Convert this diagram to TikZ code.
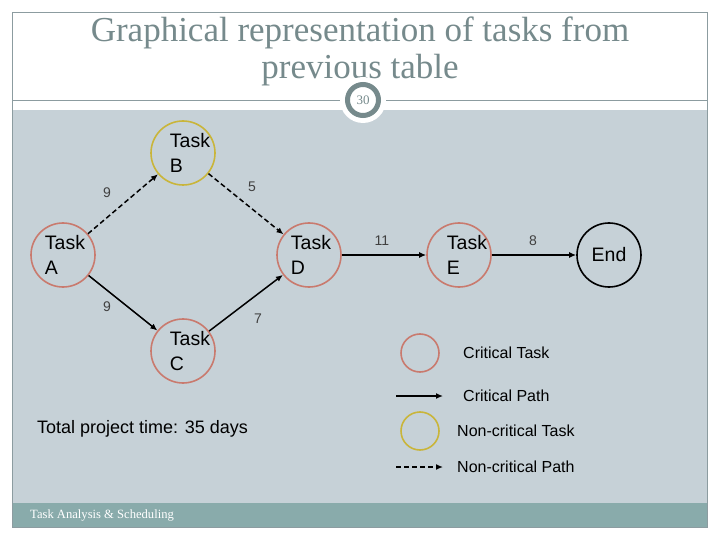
\documentclass[tikz,border=0pt]{standalone}
\usepackage{fontspec}
\setmainfont{Liberation Serif}
\setsansfont{Liberation Sans}
\usepackage{xcolor}
\usetikzlibrary{arrows.meta, positioning}

\definecolor{framegray}{RGB}{140,156,160}
\definecolor{panelgray}{RGB}{198,209,215}
\definecolor{footgray}{RGB}{137,171,171}
\definecolor{titlegray}{RGB}{118,138,140}
\definecolor{critred}{RGB}{201,122,110}
\definecolor{slackyellow}{RGB}{201,181,58}

\begin{document}
\begin{tikzpicture}[x=1bp, y=-1bp,
    task/.style={circle, draw=critred, line width=1.6bp, minimum size=64bp, inner sep=0pt},
    slack/.style={task, draw=slackyellow},
    tasktext/.style={font=\sffamily\fontsize{19.5bp}{25bp}\selectfont, align=left, inner sep=0pt},
    crit/.style={line width=1.5bp, -{Latex[length=7bp,width=6bp]}},
    noncrit/.style={crit, dash pattern=on 5bp off 3bp},
    dur/.style={font=\sffamily\fontsize{14bp}{16bp}\selectfont, text=black!75, inner sep=0pt},
    legtext/.style={font=\sffamily\fontsize{16bp}{18bp}\selectfont, anchor=west, inner sep=0pt}]
    \useasboundingbox (0,0) rectangle (720,540);
    % slide frame
    \fill[white] (0,0) rectangle (720,540);
    \fill[panelgray] (12,110) rectangle (707,503);
    \fill[footgray] (12,503) rectangle (707,527);
    \draw[framegray] (12,12) rectangle (707,527);
    \draw[framegray] (12,100) -- (707,100);

    \node[anchor=base, text=titlegray, font=\fontsize{35bp}{38bp}\selectfont] (titleA) at (360,42) {Graphical representation of tasks from};
    \node[anchor=base, text=titlegray, font=\fontsize{35bp}{38bp}\selectfont] (titleB) at (360,79) {previous table};

    \fill[white] (363,100) circle (23);
    \draw[titlegray, line width=5bp] (363,100) circle (15.5);
    \node[text=titlegray, font=\fontsize{13bp}{13bp}\selectfont] (pagenum) at (363,100) {30};

    % network
    \node[task, label={[tasktext, xshift=2bp]center:{Task\\A}}] (taskA) at (63,255) {};
    \node[slack, label={[tasktext, xshift=7bp]center:{Task\\B}}] (taskB) at (183,153) {};
    \node[task, label={[tasktext, xshift=7bp]center:{Task\\C}}] (taskC) at (183,351) {};
    \node[task, label={[tasktext, xshift=2bp]center:{Task\\D}}] (taskD) at (309,255) {};
    \node[task, label={[tasktext, xshift=8bp]center:{Task\\E}}] (taskE) at (459,255) {};
    \node[task, draw=black, tasktext] (finish) at (609,255) {End};

    \draw[noncrit] (taskA) -- (taskB);
    \draw[noncrit] (taskB) -- (taskD);
    \draw[crit] (taskA) -- (taskC);
    \draw[crit] (taskC) -- (taskD);
    \draw[crit] (taskD) -- (taskE);
    \draw[crit] (taskE) -- (finish);

    \node[dur] (durAB) at (107,193) {9};
    \node[dur] (durBD) at (252,187) {5};
    \node[dur] (durAC) at (107,307) {9};
    \node[dur] (durCD) at (258,319) {7};
    \node[dur] (durDE) at (382,241) {11};
    \node[dur] (durEF) at (533,241) {8};

    \node[font=\sffamily\fontsize{18bp}{20bp}\selectfont, anchor=west, inner sep=0pt] (total) at (37,429) {Total project time: 35 days};

    % legend
    \node[task, minimum size=38bp] (legcrit) at (420,353) {};
    \node[legtext] (legcrittext) at (463,353) {Critical Task};
    \coordinate (legcpA) at (396,396);
    \coordinate (legcpB) at (443,396);
    \draw[crit, line width=1.3bp] (legcpA) -- (legcpB);
    \node[legtext] (legcptext) at (463,396) {Critical Path};
    \node[slack, minimum size=38bp] (legslack) at (420,431) {};
    \node[legtext] (legslacktext) at (457,431) {Non-critical Task};
    \coordinate (legncA) at (396,467);
    \coordinate (legncB) at (443,467);
    \draw[noncrit, line width=1.3bp] (legncA) -- (legncB);
    \node[legtext] (legnctext) at (457,467) {Non-critical Path};

    \node[text=white, font=\fontsize{12.6bp}{14bp}\selectfont, anchor=west, inner sep=0pt] (footer) at (30,515) {Task Analysis \& Scheduling};
\end{tikzpicture}
\end{document}
